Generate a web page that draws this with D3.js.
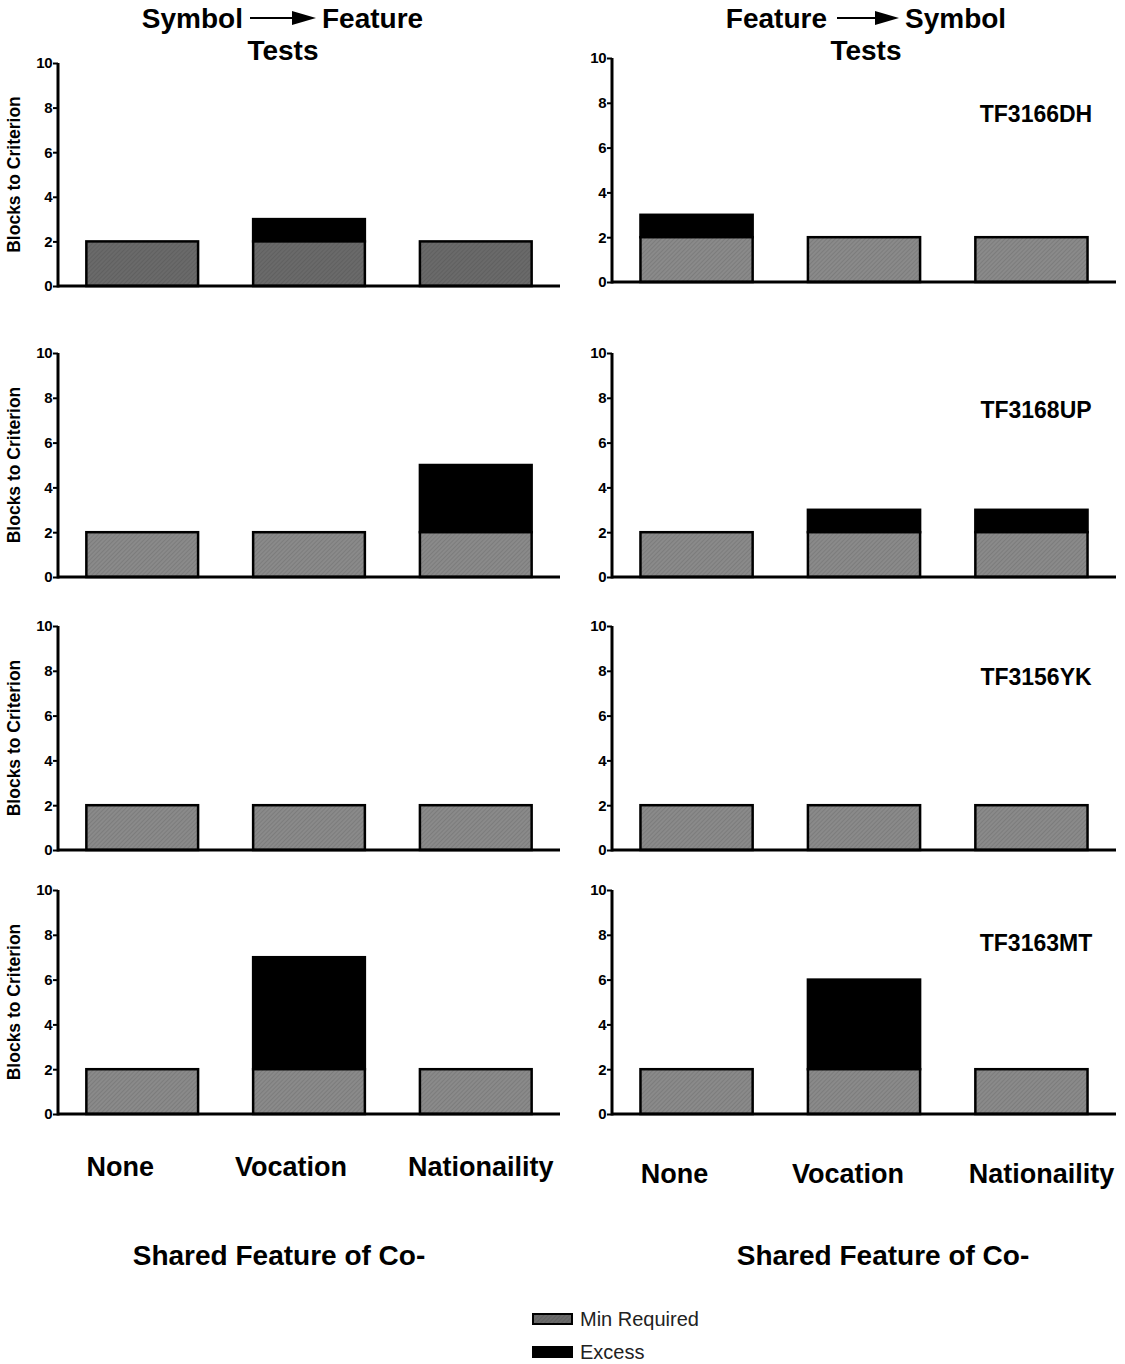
<!DOCTYPE html>
<html>
<script src='https://d3js.org/d3.v7.min.js'></script>
<style>
 body {margin:0; background:#fff;}
 text {font-family: "Liberation Sans", Arial, sans-serif; font-weight: bold;}
</style>
<body onload='init()'>
<svg width=1125 height=1364>
</svg>
<script>

// data
var categories = ['None', 'Vocation', 'Nationaility'];
var subjects = ['TF3166DH', 'TF3168UP', 'TF3156YK', 'TF3163MT'];
var yTicks = [0, 2, 4, 6, 8, 10];

// Symbol -> Feature (left column)
var symFeatMin = [[2, 2, 2], [2, 2, 2], [2, 2, 2], [2, 2, 2]];
var symFeatExcess = [[0, 1, 0], [0, 0, 3], [0, 0, 0], [0, 5, 0]];

// Feature -> Symbol (right column)
var featSymMin = [[2, 2, 2], [2, 2, 2], [2, 2, 2], [2, 2, 2]];
var featSymExcess = [[1, 0, 0], [0, 1, 1], [0, 0, 0], [0, 4, 0]];

function init() {
 var svg = d3.select('svg');

 // hatched grey fills
 var defs = svg.append('defs');
 function hatch(id, bg, line) {
  var p = defs.append('pattern').attr('id', id)
   .attr('width', 3).attr('height', 3)
   .attr('patternUnits', 'userSpaceOnUse')
   .attr('patternTransform', 'rotate(45)');
  p.append('rect').attr('width', 3).attr('height', 3).attr('fill', bg);
  p.append('line').attr('x1', 0).attr('y1', 0).attr('x2', 0).attr('y2', 3)
   .attr('stroke', line).attr('stroke-width', 1);
 }
 hatch('grey', '#8a8a8a', '#6e6e6e');
 hatch('darkgrey', '#6a6a6a', '#555555');

 // panel placement: [x0 axis, x1 end, yTop, yBottom]
 var leftPanels = [[58, 560, 63, 286], [58, 560, 353, 577], [58, 560, 626, 850], [58, 560, 890, 1114]];
 var rightPanels = [[612, 1116, 58, 282], [612, 1116, 353, 577], [612, 1116, 626, 850], [612, 1116, 890, 1114]];
 var labelY = [114, 410, 677, 943];

 function drawPanel(box, mins, excess, fillId, yLabel, subjLabel, subjY) {
  var x = d3.scaleBand().domain(categories).range([box[0], box[1]])
   .paddingInner(0.33).paddingOuter(0.17);
  var y = d3.scaleLinear().domain([0, 10]).range([box[3], box[2]]);
  var g = svg.append('g');

  var rows = categories.map(function (c, i) { return {c: c, min: mins[i], ex: excess[i]}; });

  // stacked bars: min required below, excess on top
  g.selectAll('rect.ex').data(rows.filter(function (d) { return d.ex > 0; }))
   .enter().append('rect').attr('class', 'ex')
    .attr('x', function (d) { return x(d.c); })
    .attr('width', x.bandwidth())
    .attr('y', function (d) { return y(d.min + d.ex); })
    .attr('height', function (d) { return y(d.min) - y(d.min + d.ex); })
    .attr('fill', '#000').attr('stroke', '#000').attr('stroke-width', 2.5);

  g.selectAll('rect.min').data(rows)
   .enter().append('rect').attr('class', 'min')
    .attr('x', function (d) { return x(d.c); })
    .attr('width', x.bandwidth())
    .attr('y', function (d) { return y(d.min); })
    .attr('height', function (d) { return y(0) - y(d.min); })
    .attr('fill', 'url(#' + fillId + ')').attr('stroke', '#000').attr('stroke-width', 2.5);

  // y axis
  var ya = svg.append('g').attr('transform', 'translate(' + box[0] + ',0)')
   .call(d3.axisLeft(y).tickValues(yTicks).tickSize(5).tickPadding(1));
  ya.attr('font-size', null).attr('font-family', null);
  ya.select('.domain').attr('stroke-width', 3).attr('d', 'M0,' + (box[3] + 1.5) + 'V' + box[2]);
  ya.selectAll('.tick line').attr('stroke-width', 2);
  ya.selectAll('.tick text').style('font-size', '15px').style('font-weight', 'bold')
   .style('letter-spacing', '-0.5px')
   .style('font-family', '"Liberation Sans", Arial, sans-serif').attr('fill', '#000');

  // x axis line
  svg.append('line').attr('x1', box[0]).attr('x2', box[1])
   .attr('y1', y(0)).attr('y2', y(0)).attr('stroke', '#000').attr('stroke-width', 3);

  if (yLabel) {
   svg.append('text')
    .attr('transform', 'translate(20,' + ((box[2] + box[3]) / 2) + ') rotate(-90)')
    .attr('text-anchor', 'middle').style('font-size', '17.5px').text('Blocks to Criterion');
  }
  if (subjLabel) {
   svg.append('text').attr('x', 1036).attr('y', subjY + 8).attr('text-anchor', 'middle')
    .style('font-size', '23px').text(subjLabel);
  }
 }

 subjects.forEach(function (s, i) {
  drawPanel(leftPanels[i], symFeatMin[i], symFeatExcess[i], i === 0 ? 'darkgrey' : 'grey', true, null);
  drawPanel(rightPanels[i], featSymMin[i], featSymExcess[i], 'grey', false, s, labelY[i]);
 });

 // column titles with arrows
 function title(leftWord, rightWord, xLeftEnd, xArrow0, xArrow1, xRightStart, cx) {
  svg.append('text').attr('x', xLeftEnd).attr('y', 28).attr('text-anchor', 'end')
   .style('font-size', '28px').text(leftWord);
  svg.append('text').attr('x', xRightStart).attr('y', 28).attr('text-anchor', 'start')
   .style('font-size', '28px').text(rightWord);
  svg.append('line').attr('x1', xArrow0).attr('x2', xArrow1 - 20).attr('y1', 18).attr('y2', 18)
   .attr('stroke', '#000').attr('stroke-width', 2);
  svg.append('path').attr('d', 'M' + (xArrow1 - 24) + ',11L' + xArrow1 + ',18L' + (xArrow1 - 24) + ',25Z')
   .attr('fill', '#000');
  svg.append('text').attr('x', cx).attr('y', 60).attr('text-anchor', 'middle')
   .style('font-size', '28px').text('Tests');
 }
 title('Symbol', 'Feature', 243, 250, 316, 322, 283);
 title('Feature', 'Symbol', 827, 837, 899, 905, 866);

 // category labels
 var catLeft = d3.scaleBand().domain(categories).range([58, 560]).paddingInner(0.33).paddingOuter(0.17);
 var catRight = d3.scaleBand().domain(categories).range([612, 1116]).paddingInner(0.33).paddingOuter(0.17);
 var catOffsetL = [-22, -18, 5];
 var catOffsetR = [-22, -16, 10];
 categories.forEach(function (c, i) {
  svg.append('text').attr('x', catLeft(c) + catLeft.bandwidth() / 2 + catOffsetL[i]).attr('y', 1176)
   .attr('text-anchor', 'middle').style('font-size', '27px').text(c);
  svg.append('text').attr('x', catRight(c) + catRight.bandwidth() / 2 + catOffsetR[i]).attr('y', 1183)
   .attr('text-anchor', 'middle').style('font-size', '27px').text(c);
 });

 svg.append('text').attr('x', 279).attr('y', 1265).attr('text-anchor', 'middle')
  .style('font-size', '28px').text('Shared Feature of Co-');
 svg.append('text').attr('x', 883).attr('y', 1265).attr('text-anchor', 'middle')
  .style('font-size', '28px').text('Shared Feature of Co-');

 // legend
 var legend = [['Min Required', 'url(#darkgrey)'], ['Excess', '#000']];
 legend.forEach(function (d, i) {
  var yy = 1319 + i * 33;
  svg.append('rect').attr('x', 533).attr('y', yy - 5).attr('width', 39).attr('height', 10)
   .attr('fill', d[1]).attr('stroke', '#000').attr('stroke-width', 2);
  svg.append('text').attr('x', 580).attr('y', yy + 7).style('font-size', '20px')
   .style('font-weight', 'normal').attr('fill', '#222').text(d[0]);
 });
}

</script>
</body>
</html>
